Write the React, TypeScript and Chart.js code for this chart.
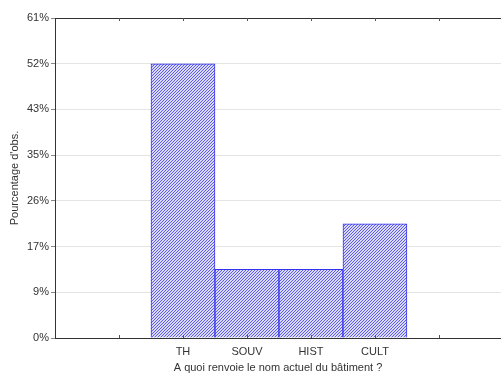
import React, { useEffect, useRef } from "react";
import { Chart, registerables } from "chart.js";

Chart.register(...registerables);

const categories = ["TH", "SOUV", "HIST", "CULT"];
const categoryPositions = [2, 3, 4, 5];
const percentages = [52.17, 13.04, 13.04, 21.74];
const yTickValues = [0, 8.696, 17.391, 26.087, 34.783, 43.478, 52.174, 60.87];
const yTickLabels = ["0%", "9%", "17%", "26%", "35%", "43%", "52%", "61%"];
const xTickValues = [1, 2, 3, 4, 5, 6];
const xTitle = "A quoi renvoie le nom actuel du bâtiment ?";
const yTitle = "Pourcentage d'obs.";

const FONT = "'Liberation Sans', Arial, sans-serif";
const TEXT = "#333333";

function makePattern(): CanvasPattern | string {
  const c = document.createElement("canvas");
  const n = 3;
  c.width = n;
  c.height = n;
  const g = c.getContext("2d");
  if (!g) return "#b8b8f0";
  g.fillStyle = "#dadaf8";
  g.fillRect(0, 0, n, n);
  g.fillStyle = "#5c5ce2";
  for (let i = 0; i < n; i++) g.fillRect(i, n - 1 - i, 1, 1);
  const p = g.createPattern(c, "repeat");
  return p || "#b8b8f0";
}

const frameTicks = {
  id: "frameTicks",
  afterDatasetsDraw(chart: any) {
    const { ctx, chartArea } = chart;
    const xs = chart.scales.x;
    ctx.save();
    ctx.strokeStyle = "#333333";
    ctx.lineWidth = 1;
    ctx.beginPath();
    ctx.moveTo(chartArea.left, chartArea.top + 0.5);
    ctx.lineTo(chartArea.right, chartArea.top + 0.5);
    ctx.stroke();
    ctx.strokeStyle = "#555555";
    xTickValues.forEach((v) => {
      const px = Math.round(xs.getPixelForValue(v)) + 0.5;
      ctx.beginPath();
      ctx.moveTo(px, chartArea.bottom);
      ctx.lineTo(px, chartArea.bottom - 3);
      ctx.moveTo(px, chartArea.top);
      ctx.lineTo(px, chartArea.top + 3);
      ctx.stroke();
    });
    ctx.restore();
  },
};

export default function App() {
  const ref = useRef<HTMLCanvasElement>(null);
  useEffect(() => {
    document.body.style.margin = "0";
    if (!ref.current) return;
    const pattern = makePattern();
    const chart = new Chart(ref.current, {
      type: "bar",
      data: {
        datasets: [
          {
            data: categoryPositions.map((x, i) => ({ x, y: percentages[i] })),
            backgroundColor: pattern as any,
            borderColor: "#3232f0",
            borderWidth: 1,
            barPercentage: 1,
            categoryPercentage: 1,
          },
        ],
      },
      options: {
        animation: false,
        responsive: false,
        maintainAspectRatio: false,
        layout: { padding: { top: 18, right: 0, left: 0, bottom: 0 } },
        plugins: { legend: { display: false }, tooltip: { enabled: false } },
        scales: {
          x: {
            type: "linear",
            offset: false,
            min: 0,
            max: 6.97,
            afterBuildTicks: (s: any) => {
              s.ticks = xTickValues.map((v) => ({ value: v }));
            },
            afterFit: (s: any) => {
              s.height = 38;
            },
            grid: { display: false, drawTicks: false },
            border: { display: true, color: "#333333" },
            ticks: {
              autoSkip: false,
              maxRotation: 0,
              padding: 7,
              color: TEXT,
              font: { family: FONT, size: 11 },
              callback: (v: any) => {
                const idx = categoryPositions.indexOf(Number(v));
                return idx >= 0 ? categories[idx] : "";
              },
            },
            title: {
              display: true,
              text: xTitle,
              color: TEXT,
              font: { family: FONT, size: 11 },
              padding: { top: 0, bottom: 1 },
            },
          },
          y: {
            min: 0,
            max: 60.87,
            afterBuildTicks: (s: any) => {
              s.ticks = yTickValues.map((v) => ({ value: v }));
            },
            afterFit: (s: any) => {
              s.width = 55;
            },
            grid: {
              color: (c: any) =>
                c.index === 0 || c.index === yTickValues.length - 1 ? "rgba(0,0,0,0)" : "#e4e4e4",
              tickColor: "#888888",
              tickLength: 4,
              drawTicks: true,
            },
            border: { display: true, color: "#333333" },
            ticks: {
              padding: 2,
              color: TEXT,
              font: { family: FONT, size: 11 },
              callback: (_v: any, i: number) => yTickLabels[i],
            },
            title: {
              display: true,
              text: yTitle,
              color: TEXT,
              font: { family: FONT, size: 11 },
              padding: { top: 8, bottom: 0 },
            },
          },
        },
      },
      plugins: [frameTicks],
    });
    return () => chart.destroy();
  }, []);
  return (
    <div style={{ width: 501, height: 376 }}>
      <canvas ref={ref} width={501} height={376} style={{ display: "block" }} />
    </div>
  );
}
